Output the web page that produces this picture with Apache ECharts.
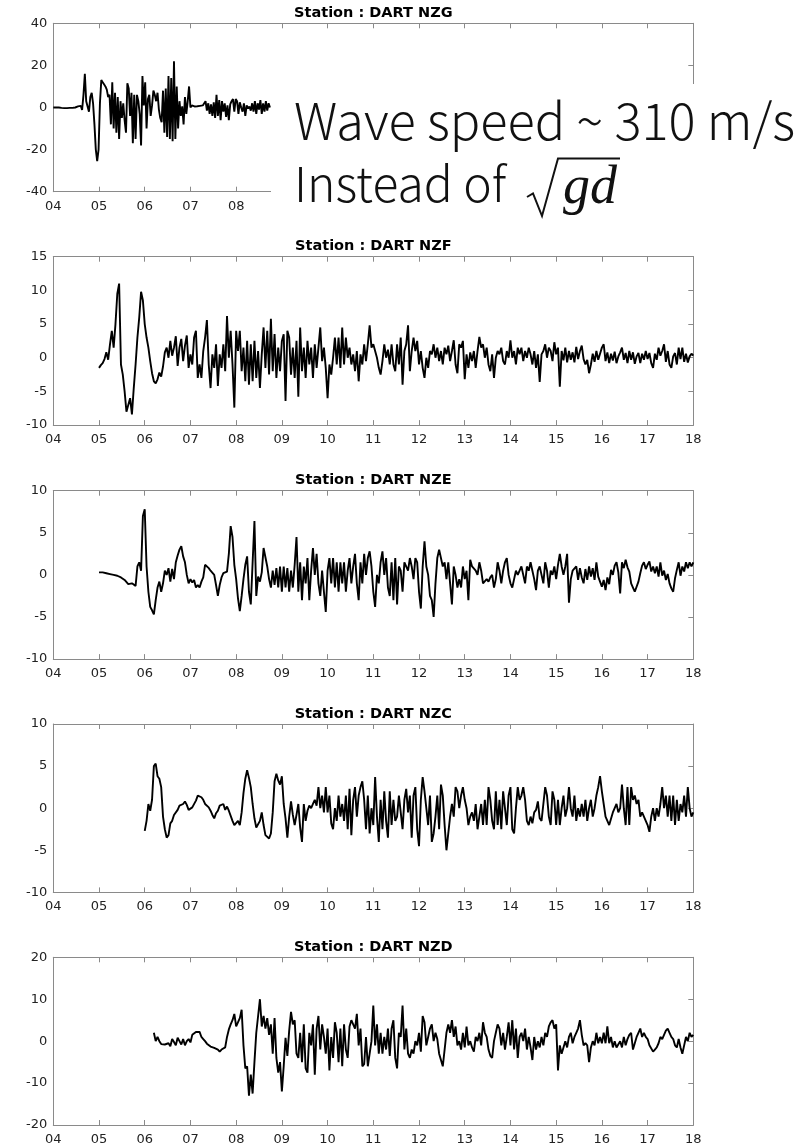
<!DOCTYPE html>
<html>
<head>
<meta charset="utf-8">
<script src="https://cdn.jsdelivr.net/npm/echarts@6/dist/echarts.min.js"></script>
<style>
  html, body { margin: 0; padding: 0; background: #ffffff; }
  #chart { width: 799px; height: 1146px; }
</style>
</head>
<body>
<div id="chart"></div>
<script>
// ---- data: DART sea-level residuals (time axis in hours, labelled 04..18) ----
const stations = ['DART NZG', 'DART NZF', 'DART NZE', 'DART NZC', 'DART NZD'];
const xTickLabels = ['04', '05', '06', '07', '08', '09', '10', '11', '12', '13', '14', '15', '16', '17', '18'];
const xMin = 4, xMax = 18;
const yMin = [-40, -10, -10, -10, -20];
const yMax = [40, 15, 10, 10, 20];
const yStep = [20, 5, 5, 5, 10];
const startTime = [4.0, 5.0, 5.0, 6.0, 6.2];
const sampleStep = [0.03, 0.04, 0.04, 0.04, 0.04];

const nzgValues = [
  0, 0, 0, 0, 0, -0.2, -0.2, -0.3, -0.3, -0.3, -0.3, -0.3, -0.2, -0.2, -0.2, -0.1, 0, 0.2,
  0.5, 1.0, 0.8, -1.2, 6.0, 16.0, 3.0, 0.5, -2.0, 5.0,
  7.0, 2.0, -8.0, -20.0, -25.5, -20.0, 2.0, 13.0, 12.0, 11.0,
  10.0, 8.5, 5.0, 6.0, -8.0, 12.0, -10.0, 7.0, -12.0, 5.0,
  -15.0, 3.0, -5.0, 2.0, -6.0, -12.0, 11.5, 9.0, -4.0, 7.0,
  -17.0, 6.0, -15.0, 6.0, 3.0, -3.0, -18.0, 15.0, 1.0, 12.0,
  -10.0, 4.0, 6.0, -4.0, 1.0, 8.0, 6.0, 3.0, 7.0, -1.0,
  -5.0, -7.0, 8.0, -12.0, 9.0, -14.0, 15.0, -15.0, 14.0, -16.0,
  22.0, -15.0, 10.0, -10.0, 3.0, -4.0, 0.5, -8.0, 5.0, -3.0,
  3.0, 10.0, 0.0, 1.0,
  0.5, 0.5, 0.6, 0.6, 0.7, 0.8, 0.8, 1.0, 1.0,
  3.0, -1.5, 2.0, -3.0, 1.5, -4.0, 2.5, -5.0, 6.0, -4.0,
  3.5, -6.0, 3.0, -2.0, 2.0, -4.5, 1.0, -6.0, 1.5, 3.0,
  4.0, -2.0, 4.0, 3.0, -3.0, 2.5, 0.0, -2.0, 2.0, -4.0,
  1.0, -0.5, 0.5, -1.5, 2.0, -2.0, 3.0, -3.0, 2.0, -1.0,
  3.5, -3.0, 2.0, -2.0, 3.0, -1.5, 2.0, 0.0
];

const nzfValues = [
  -1.5, -1.1, -0.8, -0.2, 0.8, -0.3, 2.0, 4.0, 1.5, 5.0, 9.5, 11.0, -1.0, -2.5, -5.0, -8.0, -7.8, -6.0, -8.4, -4.5, -1.0, 3.0, 6.0, 9.8, 8.5,
  5.0, 3.0, 1.5, -0.5, -2.3, -3.5, -3.8, -3.2, -2.2, -2.8, -1.3, 0.8, 1.5, 0.0, 2.5, 0.3, 1.5, 3.2, -1.2, 1.5, 2.8, -0.5, 1.8, 3.3, -1.5,
  0.5, -1.0, 3.0, 4.0, -3.0, -1.0, -3.0, 1.0, 3.0, 5.6, -1.0, -4.5, 0.5, -1.5, 2.0, -4.2, 0.5, -1.5, 2.0, -2.0, 6.2, 0.0, 4.0, -1.0, -7.4,
  4.0, 1.0, 4.0, -2.0, 1.5, -3.5, 2.5, -4.0, 2.0, -3.5, 2.5, -3.0, 1.0, -4.5, 0.5, 4.5, -1.5, 4.0, -2.5, 5.8, -2.0, 3.5, -3.0, 1.5, -2.0,
  2.5, 3.5, -6.4, 4.0, 3.0, -2.5, 1.5, -3.0, 2.5, -5.8, 4.5, -2.0, 1.5, -3.0, 2.5, -1.0, 1.5, -3.0, 2.0, -1.5, 1.5, 4.5, -0.5, 1.5, -1.5,
  -6.0, -1.0, -2.5, 0.0, 3.0, -1.0, 3.0, -1.5, 4.5, -1.0, 3.0, 0.0, 1.5, -1.0, 0.5, -2.0, 1.0, -3.5, 0.5, -1.0, 2.0, -0.5, 2.0, 4.8, 1.5,
  2.0, 1.0, 0.0, -1.5, -2.5, -0.5, 2.0, 0.0, 1.2, -1.0, 2.0,
  -1.0, -2.0, 2.0, -1.0, 3.0,
  -4.0, 1.0, 2.0, 4.8, -2.0, 1.0, 3.0, 1.0, 2.5,
  -1.0, 1.0, -1.5, -3.0, 0.0, -1.5, 1.0, 0.5, 2.0, 0.0, 1.5, -0.5, 1.0, -1.0, 1.5, 0.5, 1.8, -0.5, 1.0, 2.6, -1.0, -2.3, 2.0, 1.5, 2.5,
  -3.2, 0.5, -1.5, 0.8, -0.5, 1.0, -1.5, 1.0, 3.1, 1.5, 2.0, 0.0, 1.5, -1.0, -2.0, 0.5, -3.0, 0.0, 1.0, 0.5, 1.5, -0.5, -1.0, 1.0, 0.0,
  2.6, 0.0, 1.0, -1.0, 1.5, 0.5, 1.5, -0.5, 1.0, 0.0, 1.5, 0.5, -1.0, 1.0, -1.5, 0.5, -3.6, 0.5, 1.0, 2.0, 0.0, 1.5, 1.0, -0.5, 2.3,
  0.5, 1.5, -4.3, 1.0, -0.4, 1.5, -0.7, 1.0, -0.3, 0.8, -0.7, 1.6, -0.2, 1.0, 1.8, -0.2, -1.0, -0.3, -2.3, -1.0, 0.6, -0.6, 1.0, -0.3, 0.6,
  1.5, 2.0, -0.5, 0.8, -0.8, 0.6, -0.4, 0.9, -0.8, 0.2, 0.8, 1.5, -0.3, 0.7, -0.8, 1.0, -0.3, 0.8, -0.9, 0.2, 0.7, -0.8, 0.6, -0.3, 1.0,
  -0.2, 0.7, -0.8, -1.5, 0.6, -0.3, 1.5, 0.3, 1.0, 2.0, -0.6, 1.0, -1.0, -1.5, 0.2, 0.7, -1.0, 1.5, -0.2, 1.5, -0.6, 0.6, -0.7, 0.2, 0.6, 0.3
];

const nzeValues = [
  0.3, 0.4, 0.3, 0.4, 0.2, 0.3, 0.1, 0.2, 0.0, 0.1, -0.1, -0.2, -0.3, -0.4, -0.6, -0.8, -1.1, -1.2, -1.0, -1.0, -1.3, 1.0, 1.5, 0.5, 7.0,
  7.8, 1.0, -2.0, -3.8, -4.2, -4.7, -3.0, -1.5, -0.8, -2.0, -1.0, 0.5, 0.0, 0.8, -0.8, 0.7, -0.5, 1.5, 2.3, 3.0, 3.4, 2.2, 1.5, 0.0, -1.0,
  -0.5, -0.9, -0.6, -1.5, -1.2, -1.5, -0.8, -0.3, 1.2, 1.0, 0.8, 0.5, 0.4, 0.0, -1.2, -2.5, -1.2, -0.3, 0.2, 0.4, 0.4, 2.5, 5.8, 4.5, 1.2,
  -0.5, -2.8, -4.3, -2.5, -0.5, 1.2, 2.2, -2.0, -3.5, -3.7, 6.4, -2.5, -0.2, -0.8, 0.3, 3.2, 3.2, 1.0, -0.5, -1.5, 0.5, -1.2, 0.8, -1.5, 1.0,
  -2.0, 1.0, -1.5, 0.8, -2.0, 0.5, -1.5, 1.2, 4.5, -2.0, 1.5, -3.0, 1.0, -1.0, 2.0, -3.0, 0.5, 3.2, 0.0, 2.5, -1.0, -2.5, 0.5, -2.0, -4.4,
  0.5, 2.0, -1.0, 2.0, -1.5, 1.5, -2.0, 1.5, -1.0, 1.5, -2.0, 0.5, 2.0, -1.0, 1.0, 2.5, -1.0, -3.0, 1.5, -1.0, 2.5, 0.0, 2.0, 2.8, 1.0,
  -2.0, -3.8, 0.0, -1.0, 1.5, 2.8, 0.0, 2.0, -1.5, -2.5,
  1.5, -3.0, 2.0, -3.5, 1.0, 0.5, -2.0, 1.5, 1.5, 0.5, 2.0, 1.0, -0.5, 2.0, 1.5, -2.0, -4.0, 1.0, 4.0, 1.0, 0.0, -2.5, -3.0, -5.0, -1.0,
  2.0, 3.0, 2.8, 1.0, 1.5, -0.5, 1.5, -1.0, -3.5, 1.0, 0.0, -1.5, -0.5, -1.5, 1.0, -0.5, 0.5, -3.0, 1.8, 1.0, 1.0, 0.5, 0.0, 1.5, 0.5,
  -1.0, -0.8, -0.5, -0.8, -0.3, 0.0, -1.5, -0.5, 1.5, 0.5, -1.0, 0.5, 1.5, 2.0, 0.0, -1.0, -1.5, -0.5, 0.5, 0.0, 0.5, 1.0, 0.0, -1.0, 1.0,
  0.5, 1.5, 0.5, -0.5, -1.8, 0.5, 1.0, 0.0, -1.0, 1.5, 0.5, -1.5, 0.5, 0.0, 1.0, -0.5, 1.2, 2.5, 1.0, 0.0, 1.0, 2.5, -3.3, -0.5, 0.5,
  0.3, 1.0, -0.6, 0.8, -0.3, -1.0, 0.7, -0.6, 1.0, -0.2, 0.8, -0.6, 1.5, -0.2, -0.8, -1.4, -0.6, -1.8, -0.3, -1.1, 0.6, 0.0, 1.1, 1.5, 0.3,
  -2.2, 1.5, 0.8, 1.8, 0.9, 0.4, -1.0, -1.5, -2.0, -2.2, -0.8, 0.2, 1.1, 1.5, 0.7, 1.2, 1.6, 0.4, 1.0, 0.2, 1.0, -0.2, 1.5, -0.1, 0.5,
  -0.6, 0.1, -1.0, -1.6, -2.0, -0.4, 0.6, 1.5, -0.1, 1.0, 0.4, 1.5, 0.8, 1.5, 1.0, 1.5
];

const nzcValues = [
  -2.7, -1.5, 0.5, -0.3, 1.0, 5.0, 5.3, 3.8, 3.5, 2.5, -1.0, -2.5, -3.5, -3.2, -1.8, -1.5, -0.8, -0.6, -0.2, 0.3, 0.2, 0.5, 0.8, 0.4, -0.2,
  -0.4, 0.1, 0.3, 0.9, 1.5, 1.5, 1.3, 1.0, 0.5, 0.4, 0.1, -0.3, -0.8, -1.2, -0.6, -0.3, 0.3, 0.5, 0.5, -0.2, 0.2, -0.3, -0.2, -1.5, -2.0,
  -1.8, -1.5, -2.0, -0.5, 1.8, 3.5, 4.5, 3.6, 2.5, 0.5, -1.2, -2.3, -2.5, -1.5, -0.5, -2.0, -3.2, -3.0, -3.6, -3.0, -0.5, 3.2, 4.1, 3.3, 2.8,
  3.8, 0.5, -1.2, -3.5, -1.0, 0.8, -0.8, -2.0, -0.8, 0.5, -2.3, -4.0, 0.5, -1.5, -0.3, 0.3, 0.0, 0.5, 1.0, 0.3, 2.5, 0.0, 1.5, -0.5, 2.5,
  -0.5, 1.5, -1.8, -2.5, 0.0, -1.5, 1.5, -1.0, 0.5, -1.5, 1.5, -2.5, 2.3, -3.2, 1.0, 2.5, -1.0, 1.5, 2.5, 3.2, 1.0, -2.5, 1.5, -3.0, 0.0,
  -2.0, 3.7, -1.0, -4.0, 1.0, -2.5, 2.0, -1.5, -3.5, 2.0,
  -2.0, 1.0, -1.5, -1.0, 1.5, -0.5, -2.5, 1.0, 2.3, -0.5, 1.5, -3.5, 1.5, 2.5, -2.5, -4.5, 1.0, 3.7, 2.0, 0.0, -2.0, 1.5, -4.0, -3.0, -1.0,
  1.5, -2.5, 2.8, 1.5, -2.0, -5.0, -3.0, -1.0, 0.5, -1.0, 2.5, 2.0, 0.0, 1.5, 2.5, 1.0, 0.0, -2.0, -1.0, -0.5, -1.5, 0.5, -2.5, -1.0, 0.5,
  -2.0, 1.0, -2.0, 2.5, 1.0, -1.5, -2.5, 2.0, -2.0, 1.0, -2.5, 2.0, 0.0, -2.0, 1.5, 2.5, -2.5, -3.0, 0.0, 2.5, 1.0, 1.5, 2.5, 1.0, -1.5,
  -2.0, -1.0, -1.8, -0.5, -0.2, 0.8, -1.2, -1.5, 0.5, 2.5, 1.5, -1.0, -2.0, 2.0, 1.0, -2.0, 1.0, -2.0, 0.0, 1.5, -1.0, 0.0, 2.5, 0.0, -1.0,
  1.5, -1.5, 0.0, -1.0, 0.5, -1.0, 1.0, -1.5, 0.0, 1.0, -1.0, 0.0, 1.5, 2.5, 3.8, 2.0, 0.5, -1.0, -1.5, -2.0, -2.2, -0.5, 0.0, 0.5, -0.5,
  0.0, 2.8, 0.0, -2.0, 2.5, -2.0, 2.5, 1.0, 1.5, 0.5, 1.0, -1.0, -0.5, -1.0, -1.5, -2.0, -2.8, -1.0, 0.0, -1.5, 0.0, -1.0, 0.5, 2.5, 0.0,
  1.5, -1.0, 1.5, -1.5, 1.5, -2.0, 1.0, -1.5, 0.5, -0.5, 1.5, -1.0, 2.5, 0.0, -1.0, -0.5
];

const nzdValues = [
  2.0, 0.0, 1.0, 0.0, -0.7, -1.0, -0.8, -1.0, -0.5, -1.2, 0.5, -0.2, -1.0, 0.8, 0.0, -0.8, 0.5, -1.0, 0.0, 0.5, -0.3, 1.5, 1.8, 2.2, 2.6,
  2.2, 1.0, 0.5, 0.0, -0.6, -1.0, -1.3, -1.5, -1.6, -1.5, -2.0, -2.5, -2.0, -2.3, -1.5, 1.0, 2.8, 4.0, 5.0, 6.5, 3.5, 3.5, 5.5, 7.5, -1.0,
  -6.5, -6.0, -13.0, -8.0, -12.5, -5.0, 2.0, 6.0, 10.0, 3.5, 6.0, 3.0, 5.5, 1.5, 4.0, -3.0, 5.5, -4.0, -7.5, -5.0, -12.0, -6.0, 0.8, -3.5, 2.5,
  7.0, 4.0, 5.0, -3.0, -4.0, 2.0, -5.0, 4.0, -6.5, -7.5, 2.0, -1.0, 4.0,
  -8.0, 3.0, 6.0, -2.0, 4.0, 1.0, -3.0, 3.0, -7.0, 1.0, -4.0, 4.5, 2.0, -5.0, 3.0, -6.0, 4.0, -2.0, -4.0, 3.5,
  5.0, 4.0, 3.0, 6.5, -1.0, 3.0, -6.0, -5.5, 1.0, -6.0, -3.0, 0.0, 8.5, -1.0, 4.0, -3.0, 2.0, -3.0, 1.0, -2.0, 3.0, -3.5, 3.0, 5.0,
  -4.0, -6.5, 2.0, 1.0, 8.5, -2.0, 3.0, -3.0, -4.0, -2.0, -3.0, 0.0, -1.0, 2.0, -2.5, 6.0, 4.5, -1.0, 1.0, 3.0, 4.0, 0.0, 2.0, 0.5, -3.0,
  -4.5, -6.0, -2.0, 2.0, 4.0, 2.0, 5.0, 1.0, 3.5, -1.0, 0.0, -2.0, 2.0, -1.5, 3.5, -1.0, 0.0, -1.5, -2.5, 1.0, 0.0, 2.0, -1.0, 4.5, 2.0,
  1.0, -2.0, -3.5, -4.0, 0.0, 2.0, 4.0, 3.0, -1.0, 2.0, -2.0, 1.0, 4.5, -1.0, 5.0, -2.0, 3.0, -4.0, 1.0, 2.0, 0.0, 3.0, -2.0, 1.0, -1.5,
  -4.5, 1.0, -2.0, 0.0, -1.5, 1.0, -1.0, 2.0, 1.0, 3.5, 4.5, 5.0, 3.0, 4.0, -7.0, -1.0, -3.0, -1.5, 0.0, -1.5, 1.0, 2.0, -0.5, 1.0, 2.0,
  3.0, 5.0, 1.5, -1.0, -0.5, -1.0, -5.0, -1.5, 0.0, -1.0, 2.0, -0.5, 1.0, -0.5, 2.0, -0.5, 3.5, -0.5, 1.0, -1.5, 0.0, -1.5, -1.5, 0.0, -1.5,
  1.0, -1.0, 0.5, 1.5, 2.0, -2.0, -0.5, 1.0, 2.0, 3.0, 1.0, 2.0, 1.0, 0.5, -1.0, -1.0, -2.5, -2.0, -1.5, -0.5, 1.0, 0.5, 1.5, 2.5, 3.0,
  2.0, 1.0, 0.5, -1.0, -1.5, 0.5, -1.5, -3.0, -1.0, 1.0, 0.0, 2.0, 1.0, 1.5
];

const traces = [nzgValues, nzfValues, nzeValues, nzcValues, nzdValues];

const noteLines = ['Wave speed ~ 310 m/s', 'Instead of'];
const noteRadicand = 'gd';

// ---- layout and style ----
const PLOT_LEFT = 53.3;
const PLOT_WIDTH = 640;
const PLOT_HEIGHT = 168.4;
const PLOT_TOPS = [23.3, 256.7, 490.7, 724.0, 957.3];
const FRAME = '#8a8a8a';
const LABEL_COLOR = '#222222';
const SANS = '"DejaVu Sans", "Liberation Sans", sans-serif';
const NOTE_FAMILY = '"Noto Sans CJK JP", "Noto Sans", sans-serif';

const grid = [], xAxis = [], yAxis = [], series = [], elements = [];

traces.forEach((values, i) => {
  grid.push({ left: PLOT_LEFT, top: PLOT_TOPS[i], width: PLOT_WIDTH, height: PLOT_HEIGHT });

  const frameLine = { show: true, onZero: false, lineStyle: { color: FRAME, width: 1 } };
  const innerTick = { show: true, inside: true, length: 5, lineStyle: { color: FRAME, width: 1 } };
  const xBase = { type: 'value', gridIndex: i, min: xMin, max: xMax, interval: 1,
                  splitLine: { show: false }, axisLine: frameLine, axisTick: innerTick };
  const yBase = { type: 'value', gridIndex: i, min: yMin[i], max: yMax[i], interval: yStep[i],
                  splitLine: { show: false }, axisLine: frameLine };

  xAxis.push(Object.assign({}, xBase, {
    position: 'bottom',
    axisLabel: { show: true, margin: 8, color: LABEL_COLOR, fontFamily: SANS, fontSize: 13,
                 formatter: v => xTickLabels[Math.round(v - xMin)] }
  }));
  xAxis.push(Object.assign({}, xBase, { position: 'top', axisLabel: { show: false } }));

  yAxis.push(Object.assign({}, yBase, {
    position: 'left',
    axisTick: { show: false },
    axisLabel: { show: true, margin: 6, color: LABEL_COLOR, fontFamily: SANS, fontSize: 13 }
  }));
  yAxis.push(Object.assign({}, yBase, { position: 'right', axisTick: innerTick, axisLabel: { show: false } }));

  const data = values.map((v, k) => [+(startTime[i] + k * sampleStep[i]).toFixed(3), v]);
  series.push({
    type: 'line', xAxisIndex: 2 * i, yAxisIndex: 2 * i, data: data,
    showSymbol: false, symbol: 'none', silent: true, clip: true, z: 3,
    lineStyle: { color: '#000000', width: 1.9 }
  });

  elements.push({
    type: 'text', x: PLOT_LEFT + PLOT_WIDTH / 2, y: PLOT_TOPS[i] - 10, z: 50,
    style: { text: 'Station : ' + stations[i], font: 'bold 14.5px ' + SANS, fill: '#000000',
             textAlign: 'center', align: 'center', textVerticalAlign: 'middle', verticalAlign: 'middle' }
  });
});

// note panel laid over the right part of the first station
elements.push({ type: 'rect', z: 100, shape: { x: 271, y: 84, width: 528, height: 131 },
                style: { fill: '#ffffff', stroke: null } });
elements.push({
  type: 'text', z: 101, x: 294, y: 121,
  style: { text: noteLines[0], font: '300 50.5px ' + NOTE_FAMILY, fill: '#111111',
           textAlign: 'left', align: 'left', textVerticalAlign: 'middle', verticalAlign: 'middle' }
});
elements.push({
  type: 'text', z: 101, x: 294, y: 184,
  style: { text: noteLines[1], font: '300 48px ' + NOTE_FAMILY, fill: '#111111',
           textAlign: 'left', align: 'left', textVerticalAlign: 'middle', verticalAlign: 'middle' }
});
elements.push({
  type: 'polyline', z: 101,
  shape: { points: [[527, 197], [533, 193.5], [542, 216], [558, 158.5], [620, 158.5]] },
  style: { stroke: '#111111', lineWidth: 2, fill: null, lineJoin: 'miter' }
});
elements.push({
  type: 'text', z: 101, x: 563, y: 189,
  style: { text: noteRadicand, font: 'italic 54px "Liberation Serif", serif', fill: '#111111',
           textAlign: 'left', align: 'left', textVerticalAlign: 'middle', verticalAlign: 'middle' }
});

const chart = echarts.init(document.getElementById('chart'), null, { renderer: 'canvas' });
chart.setOption({
  animation: false,
  backgroundColor: '#ffffff',
  grid: grid,
  xAxis: xAxis,
  yAxis: yAxis,
  series: series,
  graphic: { elements: elements }
});
</script>
</body>
</html>
